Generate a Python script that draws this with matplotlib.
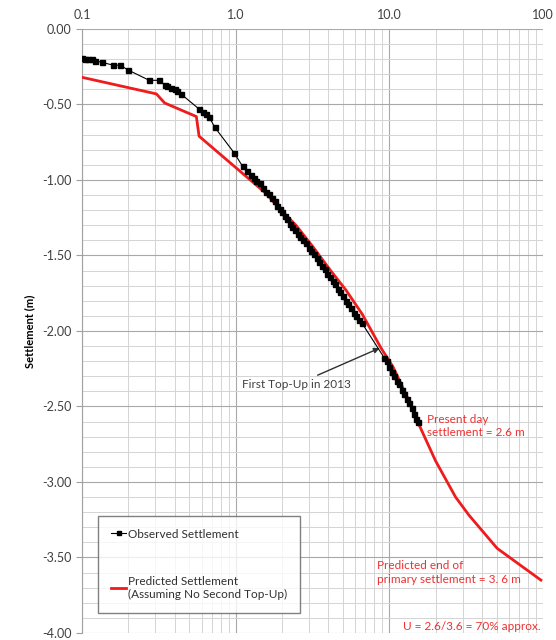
import matplotlib.pyplot as plt
from matplotlib.ticker import FixedLocator, LogLocator, MultipleLocator, NullFormatter

plt.rcParams['font.family'] = ['Lato', 'DejaVu Sans']

# Observed settlement (time in years, settlement in m)
obs_t = [0.100, 0.105, 0.110, 0.117, 0.121, 0.134, 0.160, 0.178, 0.198, 0.274,
         0.318, 0.345, 0.360, 0.380, 0.400, 0.418, 0.440, 0.578, 0.610, 0.645,
         0.670, 0.730, 0.977, 1.11, 1.18, 1.26, 1.31, 1.36, 1.44, 1.50,
         1.58, 1.66, 1.72, 1.79, 1.86, 1.93, 2.00, 2.08, 2.16, 2.25,
         2.34, 2.44, 2.54, 2.64, 2.75, 2.86, 2.98, 3.10, 3.23, 3.36,
         3.50, 3.64, 3.79, 3.94, 4.10, 4.27, 4.44, 4.62, 4.81, 5.00,
         5.21, 5.42, 5.64, 5.87, 6.10, 6.35, 6.66,
         9.30, 9.60, 10.0, 10.4, 10.8, 11.2, 11.6, 12.1, 12.5, 13.0,
         13.5, 14.0, 14.5, 15.0, 15.3]
obs_s = [-0.19, -0.20, -0.20, -0.20, -0.21, -0.22, -0.24, -0.24, -0.27, -0.34,
         -0.34, -0.37, -0.38, -0.39, -0.40, -0.41, -0.43, -0.53, -0.55, -0.56,
         -0.58, -0.65, -0.82, -0.91, -0.94, -0.97, -0.99, -1.01, -1.02, -1.05,
         -1.08, -1.09, -1.12, -1.14, -1.17, -1.19, -1.21, -1.24, -1.26, -1.29,
         -1.31, -1.33, -1.36, -1.38, -1.40, -1.42, -1.45, -1.47, -1.49, -1.52,
         -1.54, -1.57, -1.59, -1.62, -1.64, -1.67, -1.69, -1.72, -1.74, -1.77,
         -1.80, -1.82, -1.85, -1.88, -1.90, -1.93, -1.95,
         -2.18, -2.20, -2.24, -2.27, -2.30, -2.33, -2.35, -2.39, -2.42, -2.45,
         -2.48, -2.51, -2.55, -2.58, -2.60]

# Predicted settlement (no second top-up)
pred_t = [0.100, 0.305, 0.345, 0.555, 0.578, 1.58, 1.93, 2.47, 3.17, 4.08,
          5.23, 6.68, 8.80, 10.6, 14.1, 15.6, 20.0, 27.0, 33.0, 50.4, 97.0]
pred_s = [-0.32, -0.43, -0.49, -0.58, -0.71, -1.09, -1.19, -1.30, -1.44, -1.59,
          -1.73, -1.89, -2.11, -2.24, -2.51, -2.62, -2.86, -3.10, -3.22, -3.44, -3.65]

x_ticks = [0.1, 1, 10, 100]
x_tick_labels = ['0.1', '1.0', '10.0', '100']

fig = plt.figure(figsize=(5.56, 6.40), dpi=100)
ax = fig.add_axes([0.1475, 0.011, 0.829, 0.9437])

ax.plot(pred_t, pred_s, color='#ee1c1c', linewidth=2.0,
        label='Predicted Settlement\n(Assuming No Second Top-Up)', zorder=3)
ax.plot(obs_t, obs_s, color='black', linewidth=0.8, marker='s', markersize=3.6,
        label='Observed Settlement', zorder=4)

ax.set_xscale('log')
ax.set_xlim(0.1, 100)
ax.set_ylim(-4.0, 0.0)
ax.xaxis.tick_top()
ax.xaxis.set_major_locator(FixedLocator(x_ticks))
ax.set_xticklabels(x_tick_labels)
ax.xaxis.set_minor_locator(LogLocator(base=10, subs=range(2, 10)))
ax.xaxis.set_minor_formatter(NullFormatter())
ax.yaxis.set_major_locator(MultipleLocator(0.5))
ax.yaxis.set_minor_locator(MultipleLocator(0.1))
ax.yaxis.set_major_formatter(plt.FuncFormatter(lambda v, p: f'{v:.2f}'))

ax.grid(True, which='major', color='#a8a8a8', linewidth=0.8)
ax.grid(True, which='minor', color='#d4d4d4', linewidth=0.7)
ax.set_axisbelow(True)
for side in ['top', 'right', 'bottom']:
    ax.spines[side].set_visible(False)
ax.spines['left'].set_color('#a0a0a0')
ax.tick_params(axis='x', which='both', length=0, labelsize=9, colors='#404040', pad=6)
ax.tick_params(axis='y', which='major', length=4, color='#a0a0a0', labelsize=9,
               labelcolor='#404040')
ax.tick_params(axis='y', which='minor', length=0)

ax.set_ylabel('Settlement (m)', fontsize=8, fontweight='bold', labelpad=5)

ax.annotate('First Top-Up in 2013', xy=(8.8, -2.11), xytext=(5.6, -2.355),
            fontsize=8.5, color='#404040', ha='right', va='center',
            arrowprops=dict(arrowstyle='-|>', color='#303030', lw=1.0,
                            mutation_scale=8, shrinkA=2, shrinkB=1))

ax.text(17.7, -2.63, 'Present day\nsettlement = 2.6 m', color='#ee3030',
        fontsize=8.5, va='center', ha='left', linespacing=1.3)
ax.text(8.3, -3.60, 'Predicted end of\nprimary settlement = 3. 6 m', color='#ee3030',
        fontsize=8.5, va='center', ha='left', linespacing=1.3)
ax.text(97, -3.955, 'U = 2.6/3.6 = 70% approx.', color='#ee3030',
        fontsize=8.5, va='center', ha='right')

handles, labels = ax.get_legend_handles_labels()
leg = ax.legend(handles[::-1], labels[::-1], loc='lower left',
                bbox_to_anchor=(0.035, 0.033), fontsize=8.5, frameon=True,
                fancybox=False, edgecolor='#606060', handlelength=1.3,
                handletextpad=0.1, labelspacing=3.1, borderpad=1.1,
                borderaxespad=0, markerscale=0.8)
leg.get_frame().set_linewidth(1.0)
for t in leg.get_texts():
    t.set_color('#303030')

fig.savefig('out.png', dpi=100)
